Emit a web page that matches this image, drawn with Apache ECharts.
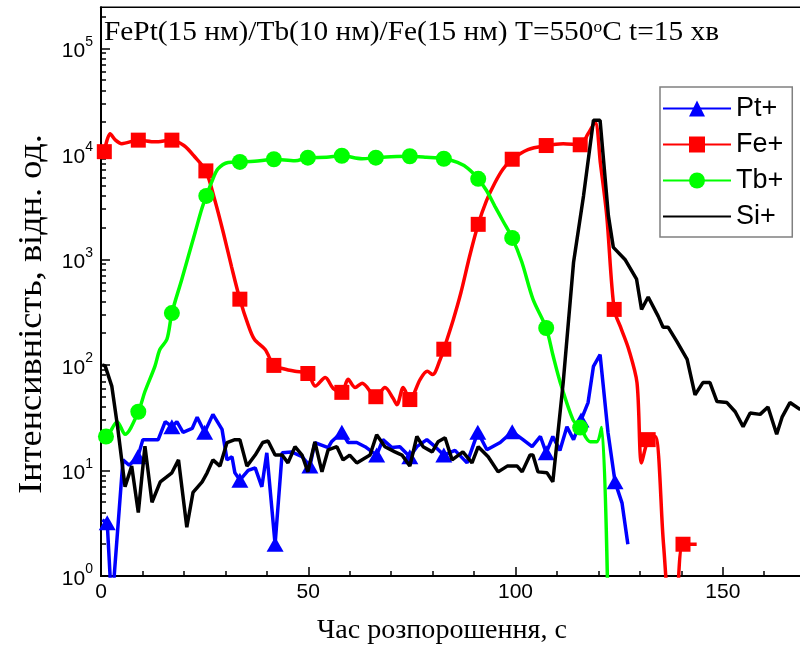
<!DOCTYPE html>
<html><head><meta charset="utf-8">
<script src="https://cdn.jsdelivr.net/npm/echarts@6/dist/echarts.min.js"></script>
<style>html,body{margin:0;padding:0;background:#fff}#c{width:800px;height:651px}</style>
</head><body><div id="c"></div><script>
// ---- data (time in s, intensity in arb. units) ----
const seriesNames = ['Pt+', 'Fe+', 'Tb+', 'Si+'];
const titleText = 'FePt(15 нм)/Tb(10 нм)/Fe(15 нм) T=550{sup|o}C t=15 хв';
const xAxisName = 'Час розпорошення, с';
const yAxisName = 'Інтенсивність, відн. од.';
const xTickLabels = [0, 50, 100, 150];
const yTickExponents = [0, 1, 2, 3, 4, 5];
const xMin = 0, xMax = 170, yMin = 1, yMax = 245000;

const ptData = [[0.3,3.4],[1.5,3.2],[2.6,0.5],[5.3,12.6],[6.8,11.2],[8.9,13.5],[10.1,19.6],[13.8,19.6],[15.5,29],[17.1,26],[18.3,29],[19.8,23],[22,25],[23.2,32],[25,23],[27,34],[29.2,24.5],[30.4,12.6],[31.6,13.5],[32.3,9.5],[33.5,8.1],[35.5,10],[37.2,10.6],[38.8,7],[40,14.7],[42,2.0],[43.7,14.7],[46,15],[48.5,13.5],[50.4,11],[51.6,18.4],[54.8,16.5],[55.6,18.7],[58.1,23],[59.6,18.4],[61.7,18.4],[63.7,16.8],[65.4,15],[66.5,14],[68,19.6],[70.2,16.5],[72.1,16.8],[74.5,13.5],[76.2,16.8],[78.6,19.6],[80.6,16.8],[82.7,14],[85.4,15.5],[88.3,11.8],[90.9,23],[93.1,15.7],[96.3,18.4],[99.2,23.3],[101.8,19.6],[104,16.8],[106,21],[107.4,14.7],[109,21],[110.7,15.5],[112.4,26],[114,19.6],[115.8,30],[117.5,44],[118.8,97],[120.4,125],[122.3,23],[124,7.8],[125.7,4.9],[127.1,2.0]];
const ptMarkers = [1.5,8.9,17.1,25,33.5,42,50.4,58.1,66.5,74.5,82.7,90.9,99.2,107.4,115.8,124];

const feData = [[0.8,10500],[2.2,15500],[3.5,13500],[5,12500],[9,13500],[13,13000],[17.1,13500],[20,12000],[22.5,9500],[25.3,6900],[27.5,3600],[29.5,1800],[31.5,850],[33.5,420],[35.5,240],[37,175],[39.6,140],[41.7,99],[44,92],[46.8,87],[49.9,83],[51.7,63],[54.1,76],[56,60],[58.1,55],[59.6,73],[61.3,61],[63,67],[66.3,50],[68.5,61],[70.5,48],[71.4,42],[72.9,61],[74.5,47],[77,73],[78.7,87],[80,81],[81.8,112],[82.7,141],[85,270],[86.8,480],[89,1100],[91,2150],[93,3600],[95,5300],[97,7200],[99.2,8900],[103,11000],[107.4,12000],[111.5,12500],[115.6,12200],[117.5,15500],[119.2,20000],[120.5,8000],[122,2600],[123.8,336],[125.5,220],[127.3,141],[129.3,68],[130.4,11.8],[132,19.6],[133.7,21],[135.7,2.0],[137.7,0.3],[138.5,0.3],[140.4,2.0],[143.7,2.0]];
const feMarkers = [0.8,9,17.1,25.3,33.5,41.7,49.9,58.1,66.3,74.5,82.7,91,99.2,107.4,115.6,123.8,132,140.4];

const tbData = [[0,22],[1.2,21],[3.9,29],[5.8,22],[9,36],[10.6,56],[13,97],[14.2,140],[15.9,175],[17.1,310],[19.5,650],[22.7,1800],[24.3,3000],[25.4,4000],[26.7,5400],[28.2,7200],[30.7,8300],[33.5,8400],[37,8500],[41.7,8900],[46.8,8600],[49.9,9200],[54.4,9300],[58.1,9600],[63,9000],[66.3,9200],[70,9400],[74.5,9500],[78.5,9300],[82.7,9000],[86,8300],[88.5,7300],[91,5800],[93,4500],[95,3200],[97,2300],[99.2,1600],[101.5,950],[104.2,420],[107.4,224],[109,125],[110.8,68],[113.9,30],[115.6,25.5],[118,18.7],[119.6,18.7],[120.8,25.6],[122.4,0.3]];
const tbMarkers = [1.2,9,17.1,25.4,33.5,41.7,49.9,58.1,66.3,74.5,82.7,91,99.2,107.4,115.6];

const siData = [[0.3,100],[1,98],[2.6,63],[4,26],[5.8,7],[7.4,11],[9,4],[10.6,17],[12.3,5],[14.3,7.8],[17.1,9.5],[18.7,12.6],[20.7,2.9],[22.2,6.2],[24.4,7.8],[25.6,9.5],[27,12.6],[28.7,11],[30.4,18.4],[32.3,19.6],[33.5,19.6],[35.2,11],[37.2,14],[39,18.4],[40.3,19],[42,14],[43.7,14],[45.1,11.8],[46.8,16.8],[48.5,14],[49.9,9.7],[51.6,18.7],[53.3,9.7],[54.8,15.7],[56.9,16.8],[58.4,12.6],[60,14],[61.7,11.8],[64.9,14],[66.5,21.8],[68.5,16.8],[70.9,15],[72.6,14],[74.5,11],[76.2,21],[77.7,16.8],[79.9,15],[81.3,18.7],[83,20.4],[84.7,12.6],[87.3,15],[89.5,11.8],[91,16.8],[93.4,13.5],[95.8,9.7],[98,11],[100.4,11],[101.6,9.7],[103.5,14],[104.2,14],[105.4,9.7],[107.6,9.5],[109,7.8],[111.5,68],[114,940],[116.4,4000],[118.8,20800],[120.4,20800],[122.4,2600],[123.6,1300],[126.4,1000],[129.2,650],[130.4,335],[132,440],[134.4,290],[135.6,228],[136.8,228],[138.9,167],[141.4,113],[143.3,52],[145.2,68],[146.9,68],[148.6,45],[151,44],[153,36],[154.9,26],[156.6,35],[159,34],[160.9,40],[163,22],[164.3,32],[166.2,44],[168.6,38],[170,40]];

// ---- build ----
const SANS = 'Liberation Sans, Arial, sans-serif';
const SERIF = 'Liberation Serif, Times New Roman, serif';

function withMarkers(data, markers, sym) {
  return data.map(([t, v]) => ({ value: [t, v], symbol: markers.indexOf(t) >= 0 ? sym : 'none' }));
}

const yMinorLogs = [];
for (let n = 0; n <= 5; n++) for (let k = 2; k <= 9; k++) {
  const v = k * Math.pow(10, n);
  if (v <= yMax) yMinorLogs.push(Math.log10(v));
}

const chart = echarts.init(document.getElementById('c'), null, { renderer: 'canvas' });
chart.setOption({
  animation: false,
  backgroundColor: '#fff',
  graphic: [
    { type: 'text', x: 104, y: 33, scaleX: 1.087, z: 10,
      style: { text: titleText, fontFamily: SERIF, fontSize: 27, fill: '#000', align: 'left', verticalAlign: 'middle',
               rich: { sup: { fontFamily: SERIF, fontSize: 16, fill: '#000', verticalAlign: 'top' } } } },
    { type: 'text', x: 442, y: 631, scaleX: 1.04, z: 10,
      style: { text: xAxisName, fontFamily: SERIF, fontSize: 27, fill: '#000', align: 'center', verticalAlign: 'middle' } },
    { type: 'text', x: 32, y: 314, rotation: Math.PI / 2, scaleX: 1.1, z: 10,
      style: { text: yAxisName, fontFamily: SERIF, fontSize: 33, fill: '#000', align: 'center', verticalAlign: 'middle' } }
  ],
  legend: {
    orient: 'vertical', left: 660, top: 87,
    data: ['Pt+', 'Fe+', 'Tb+', { name: 'Si+', itemStyle: { opacity: 0 } }],
    itemWidth: 68, itemHeight: 20, itemGap: 9,
    padding: [8, 9, 7, 2],
    borderColor: '#808080', borderWidth: 1.5, backgroundColor: '#fff',
    selectedMode: false,
    textStyle: { fontFamily: SANS, fontSize: 27, color: '#000' }
  },
  grid: { left: 101, top: 7.3, width: 704.7, height: 568.7, containLabel: false, outerBoundsMode: 'none',
          show: true, borderColor: '#000', borderWidth: 1.5, backgroundColor: 'transparent' },
  xAxis: [{
    type: 'value', min: xMin, max: xMax, interval: 50,
    axisLine: { show: true, lineStyle: { color: '#000', width: 2 } },
    axisTick: { show: true, inside: true, length: 9, lineStyle: { color: '#000', width: 1.5 } },
    axisLabel: { show: true, margin: 6, fontFamily: SANS, fontSize: 21, color: '#000', showMaxLabel: false,
                 formatter: v => xTickLabels.indexOf(v) >= 0 ? String(v) : '' },
    splitLine: { show: false }
  }, {
    type: 'value', min: xMin, max: xMax, interval: 10, position: 'bottom',
    axisLine: { show: false },
    axisTick: { show: true, inside: true, length: 5, lineStyle: { color: '#000', width: 1.5 } },
    axisLabel: { show: false }, splitLine: { show: false }
  }],
  yAxis: [{
    type: 'log', logBase: 10, min: yMin, max: yMax,
    axisLine: { show: true, lineStyle: { color: '#000', width: 2 } },
    axisTick: { show: true, inside: true, length: 9, lineStyle: { color: '#000', width: 1.5 } },
    axisLabel: {
      show: true, margin: 8, color: '#000', showMaxLabel: false,
      formatter: v => {
        const e = Math.round(Math.log10(v));
        if (Math.abs(Math.log10(v) - e) > 1e-6 || yTickExponents.indexOf(e) < 0) return '';
        return '{a|10}{b|' + e + '}';
      },
      rich: {
        a: { fontFamily: SANS, fontSize: 21, color: '#000', padding: [6, 0, 0, 0] },
        b: { fontFamily: SANS, fontSize: 14, color: '#000', verticalAlign: 'top' }
      }
    },
    splitLine: { show: false }
  }, {
    type: 'value', min: 0, max: Math.log10(yMax), position: 'left',
    axisLine: { show: false },
    axisTick: { show: true, inside: true, length: 5, customValues: yMinorLogs, lineStyle: { color: '#000', width: 1.5 } },
    axisLabel: { show: false }, splitLine: { show: false }
  }],
  series: [
    { name: 'Pt+', type: 'line', xAxisIndex: 0, yAxisIndex: 0, symbol: 'triangle', symbolSize: [17, 15],
      data: withMarkers(ptData, ptMarkers, 'triangle'), color: '#0000FF',
      lineStyle: { color: '#0000FF', width: 3.5 }, itemStyle: { color: '#0000FF' }, z: 2 },
    { name: 'Fe+', type: 'line', xAxisIndex: 0, yAxisIndex: 0, symbol: 'rect', symbolSize: 15, smooth: 0.3,
      data: withMarkers(feData, feMarkers, 'rect'), color: '#FF0000',
      lineStyle: { color: '#FF0000', width: 3.5 }, itemStyle: { color: '#FF0000' }, z: 3 },
    { name: 'Tb+', type: 'line', xAxisIndex: 0, yAxisIndex: 0, symbol: 'circle', symbolSize: 16, smooth: 0.3,
      data: withMarkers(tbData, tbMarkers, 'circle'), color: '#00FF00',
      lineStyle: { color: '#00FF00', width: 3.5 }, itemStyle: { color: '#00FF00' }, z: 4 },
    { name: 'Si+', type: 'line', xAxisIndex: 0, yAxisIndex: 0, symbol: 'none', showSymbol: false,
      data: siData, color: '#000',
      lineStyle: { color: '#000', width: 3.5 }, itemStyle: { color: '#000' }, z: 5 }
  ]
});
</script></body></html>
